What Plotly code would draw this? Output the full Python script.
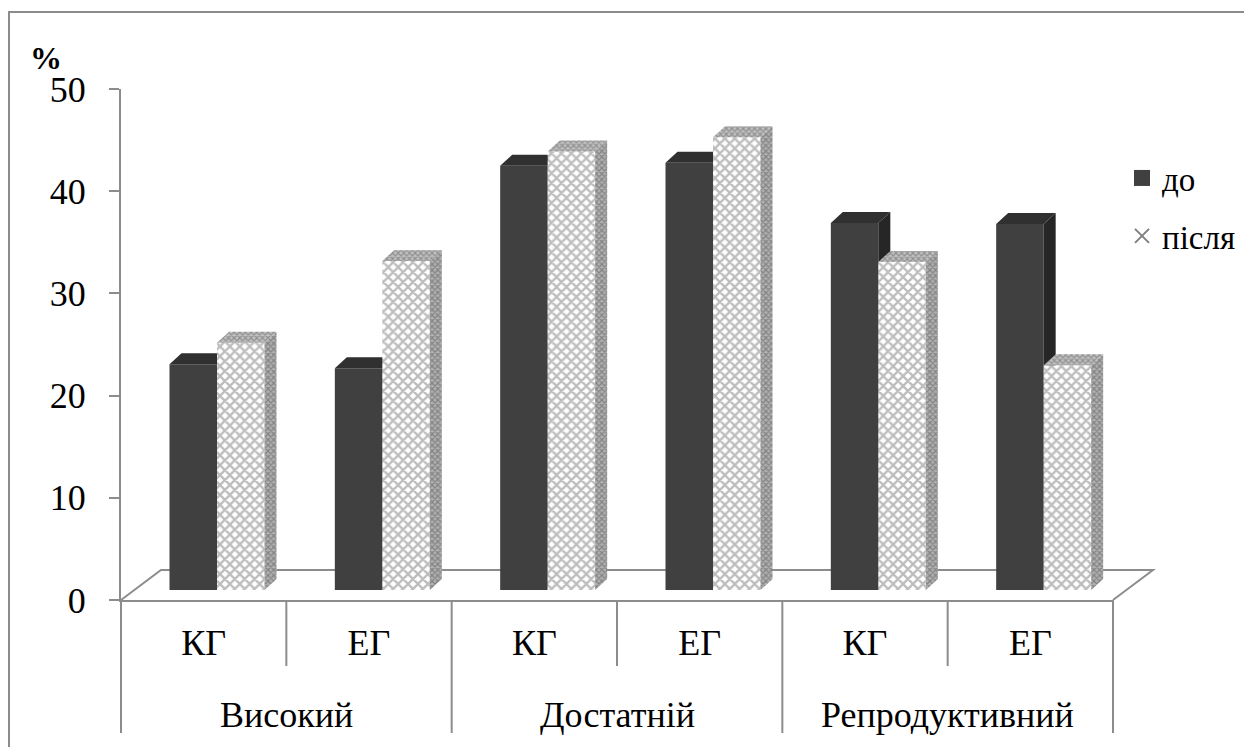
import plotly.graph_objects as go

# ---- data -------------------------------------------------------------
levels = ["Високий", "Високий", "Достатній", "Достатній", "Репродуктивний", "Репродуктивний"]
groups = ["КГ", "ЕГ", "КГ", "ЕГ", "КГ", "ЕГ"]
series_names = ["до", "після"]
do_vals = [22.1, 21.7, 41.5, 41.8, 35.9, 35.8]
pislia_vals = [24.2, 32.2, 42.9, 44.3, 32.1, 22.0]
y_ticks = [0, 10, 20, 30, 40, 50]

# ---- geometry ---------------------------------------------------------
W, H = 1244, 747
ML, MR, MT, MB = 121, 131, 89, 147
PW = W - ML - MR
PH = H - MT - MB
YMAX = 50
N = len(groups)
px_x = PW / N          # pixels per category
px_y = PH / YMAX       # pixels per percent

FLOOR_DX, FLOOR_DY = 40, 30       # depth of the floor, px
BAR_DX, BAR_DY = 12, 11           # depth of a bar, px
shift_x = (FLOOR_DX / 3) / px_x   # bars stand a third of the way into the floor
shift_y = (FLOOR_DY / 3) / px_y
dx = BAR_DX / px_x
dy = BAR_DY / px_y
bar_w = 47.5 / px_x

GRAY = "#8c8c8c"
FONT = "Liberation Serif"
xs = list(range(N))


def box_faces(vals, left):
    """Top and right-side faces of the 3-D columns, in bar-axis units."""
    tx, ty, sx, sy = [], [], [], []
    for c, v in zip(xs, vals):
        x0 = c + left
        x1 = x0 + bar_w
        tx += [x0, x1, x1 + dx, x0 + dx, x0, None]
        ty += [v, v, v + dy, v + dy, v, None]
        sx += [x1, x1, x1 + dx, x1 + dx, x1, None]
        sy += [0, v, v + dy, dy, 0, None]
    return tx, ty, sx, sy


fig = go.Figure()

# legend keys (on the front axes, which carry the visible ticks)
fig.add_trace(go.Scatter(
    x=[None], y=[None], mode="markers", name=series_names[0], legendgroup="a",
    marker=dict(symbol="square", size=16, color="#404040"),
))
fig.add_trace(go.Scatter(
    x=[None], y=[None], mode="markers", name=series_names[1], legendgroup="b",
    marker=dict(symbol="x-thin", size=14, color="#808080", line=dict(width=2, color="#808080")),
))

# series "до" : dark columns
fig.add_trace(go.Bar(
    x=xs, y=do_vals, width=bar_w, offset=-bar_w,
    marker=dict(color="#404040", line=dict(width=0)),
    xaxis="x2", yaxis="y2", showlegend=False, name=series_names[0],
))
tx, ty, sx, sy = box_faces(do_vals, -bar_w)
fig.add_trace(go.Scatter(
    x=sx, y=sy, mode="lines", fill="toself", fillcolor="#262626",
    line=dict(width=0), xaxis="x2", yaxis="y2", hoverinfo="skip", showlegend=False,
))
fig.add_trace(go.Scatter(
    x=tx, y=ty, mode="lines", fill="toself", fillcolor="#303030",
    line=dict(width=0), xaxis="x2", yaxis="y2", hoverinfo="skip", showlegend=False,
))

# series "після" : cross-hatched columns
fig.add_trace(go.Bar(
    x=xs, y=pislia_vals, width=bar_w, offset=0,
    marker=dict(color="white", line=dict(width=0),
                pattern=dict(shape="x", fgcolor="#7c7c7c", bgcolor="white",
                             size=7, solidity=0.55)),
    xaxis="x3", yaxis="y3", showlegend=False, name=series_names[1],
))
tx, ty, sx, sy = box_faces(pislia_vals, 0)
fig.add_trace(go.Scatter(
    x=sx, y=sy, mode="lines", fill="toself", fillcolor="#a0a0a0",
    fillpattern=dict(shape="x", fgcolor="#555555", bgcolor="#b0b0b0", size=4, solidity=0.5),
    line=dict(width=0), xaxis="x3", yaxis="y3", hoverinfo="skip", showlegend=False,
))
fig.add_trace(go.Scatter(
    x=tx, y=ty, mode="lines", fill="toself", fillcolor="#b0b0b0",
    fillpattern=dict(shape="x", fgcolor="#606060", bgcolor="#c0c0c0", size=4, solidity=0.5),
    line=dict(width=0), xaxis="x3", yaxis="y3", hoverinfo="skip", showlegend=False,
))

bar_x_range = [-0.5 - shift_x, N - 0.5 - shift_x]
bar_y_range = [-shift_y, YMAX - shift_y]
hidden = dict(visible=False, showgrid=False, zeroline=False)

# frame and floor parallelogram, in paper units
fx = FLOOR_DX / PW
fy = FLOOR_DY / PH
shapes = [
    dict(type="rect", xref="paper", yref="paper",
         x0=(9 - ML) / PW, x1=1.3, y0=-0.5, y1=(H - MB - 12) / PH,
         line=dict(color=GRAY, width=2), layer="below"),
    dict(type="path", xref="paper", yref="paper",
         path=f"M 0,0 L {fx},{fy} L {1 + fx},{fy} L 1,0",
         line=dict(color=GRAY, width=2), layer="below"),
]

# category separators: short ones between КГ/ЕГ, long ones between levels
annotations = []
for b in range(N + 1):
    is_level_edge = b in (0, N) or levels[b - 1] != levels[b]
    depth = 133 if is_level_edge else 66
    shapes.append(dict(type="line", xref="paper", yref="paper",
                       x0=b / N, x1=b / N, y0=0, y1=-depth / PH,
                       line=dict(color=GRAY, width=2)))

# level names centred under their pair of categories
start = 0
for i in range(1, N + 1):
    if i == N or levels[i] != levels[start]:
        annotations.append(dict(
            text=levels[start], xref="paper", yref="paper",
            x=(start + i) / 2 / N, y=-115 / PH, xanchor="center", yanchor="middle",
            showarrow=False, font=dict(family=FONT, size=36, color="black"),
        ))
        start = i

annotations.append(dict(
    text="<b>%</b>", xref="paper", yref="paper",
    x=(46 - ML) / PW, y=(H - MB - 58) / PH, xanchor="center", yanchor="middle",
    showarrow=False, font=dict(family=FONT, size=32, color="black"),
))

fig.update_layout(
    width=W, height=H,
    margin=dict(l=ML, r=MR, t=MT, b=MB, pad=0, autoexpand=False),
    paper_bgcolor="white", plot_bgcolor="rgba(0,0,0,0)",
    barmode="overlay",
    font=dict(family=FONT, color="black"),
    xaxis=dict(
        range=[-0.5, N - 0.5], tickvals=xs, ticktext=groups,
        showline=True, linecolor=GRAY, linewidth=2, ticks="",
        tickfont=dict(family=FONT, size=36, color="black"),
        ticklabelstandoff=10, showgrid=False, zeroline=False, automargin=False,
    ),
    yaxis=dict(
        range=[0, YMAX], tickvals=y_ticks, ticks="outside", ticklen=10,
        tickwidth=2, tickcolor=GRAY, showline=True, linecolor=GRAY, linewidth=2,
        tickfont=dict(family=FONT, size=36, color="black"),
        ticklabelstandoff=16, showgrid=False, zeroline=False, automargin=False,
    ),
    xaxis2=dict(overlaying="x", anchor="y2", range=bar_x_range, **hidden),
    yaxis2=dict(overlaying="y", anchor="x2", range=bar_y_range, **hidden),
    xaxis3=dict(overlaying="x", anchor="y3", range=bar_x_range, **hidden),
    yaxis3=dict(overlaying="y", anchor="x3", range=bar_y_range, **hidden),
    legend=dict(
        xref="container", yref="container",
        x=1122 / W, y=1 - 150 / H, xanchor="left", yanchor="top",
        font=dict(family=FONT, size=33, color="black"),
        bgcolor="rgba(0,0,0,0)", traceorder="grouped", tracegroupgap=12,
    ),
    shapes=shapes,
    annotations=annotations,
)

fig.write_html("out.html")
